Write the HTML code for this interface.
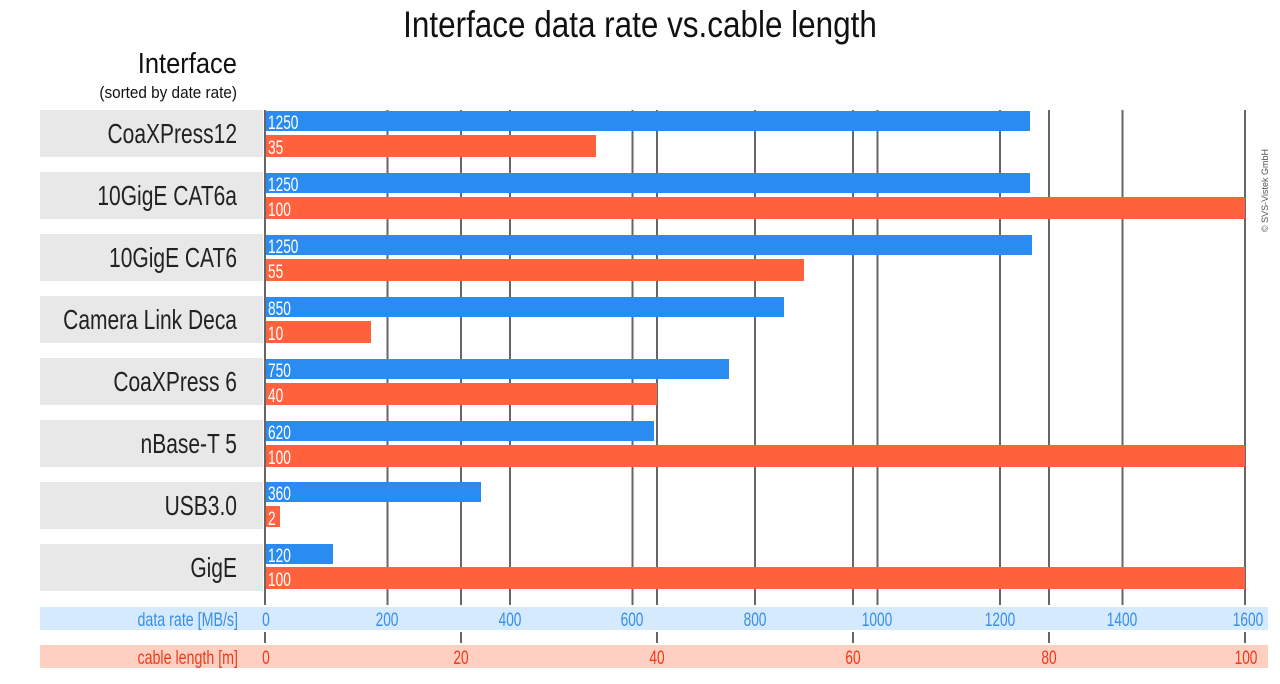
<!DOCTYPE html>
<html><head><meta charset="utf-8"><style>
body{margin:0;background:#fff;}
svg{display:block;font-family:"Liberation Sans",sans-serif;}
</style></head><body>
<svg width="1280" height="684" viewBox="0 0 1280 684">
<text x="640" y="37" text-anchor="middle" font-size="37" transform="translate(640 0) scale(0.85 1) translate(-640 0)" fill="#111">Interface data rate vs.cable length</text>
<text x="237" y="73" text-anchor="end" font-size="29" transform="translate(237 0) scale(0.88 1) translate(-237 0)" fill="#111">Interface</text>
<text x="237" y="98" text-anchor="end" font-size="17" transform="translate(237 0) scale(0.9 1) translate(-237 0)" fill="#111">(sorted by date rate)</text>
<g fill="#e8e8e8">
<rect x="40" y="110" width="223" height="47"/><rect x="40" y="172" width="223" height="47"/>
<rect x="40" y="234" width="223" height="47"/><rect x="40" y="296" width="223" height="47"/>
<rect x="40" y="358" width="223" height="47"/><rect x="40" y="420" width="223" height="47"/>
<rect x="40" y="482" width="223" height="47"/><rect x="40" y="544" width="223" height="47"/>
</g>
<g stroke="#666" stroke-width="2">
<line x1="265" y1="110" x2="265" y2="605"/>
<line x1="387.5" y1="110" x2="387.5" y2="605"/><line x1="510" y1="110" x2="510" y2="605"/>
<line x1="632.5" y1="110" x2="632.5" y2="605"/><line x1="755" y1="110" x2="755" y2="605"/>
<line x1="877.5" y1="110" x2="877.5" y2="605"/><line x1="1000" y1="110" x2="1000" y2="605"/>
<line x1="1122.5" y1="110" x2="1122.5" y2="605"/><line x1="1245" y1="110" x2="1245" y2="605"/>
<line x1="461" y1="110" x2="461" y2="605"/><line x1="657" y1="110" x2="657" y2="605"/>
<line x1="853" y1="110" x2="853" y2="605"/><line x1="1049" y1="110" x2="1049" y2="605"/>
<line x1="265" y1="632" x2="265" y2="643"/><line x1="461" y1="632" x2="461" y2="643"/>
<line x1="657" y1="632" x2="657" y2="643"/><line x1="853" y1="632" x2="853" y2="643"/>
<line x1="1049" y1="632" x2="1049" y2="643"/><line x1="1245" y1="632" x2="1245" y2="643"/>
</g>
<g fill="#2a8cf0">
<rect x="266" y="111" width="764" height="20"/><rect x="266" y="173" width="764" height="20"/>
<rect x="266" y="235" width="766" height="20"/><rect x="266" y="297" width="518" height="20"/>
<rect x="266" y="359" width="463" height="20"/><rect x="266" y="421" width="388" height="20"/>
<rect x="266" y="482" width="215" height="20"/><rect x="266" y="544" width="67" height="20"/>
</g>
<g fill="#ff623c">
<rect x="266" y="135" width="330" height="22"/><rect x="266" y="197" width="979" height="22"/>
<rect x="266" y="259" width="538" height="22"/><rect x="266" y="321" width="105" height="22"/>
<rect x="266" y="383" width="391" height="22"/><rect x="266" y="445" width="979" height="22"/>
<rect x="266" y="506" width="14" height="21"/><rect x="266" y="567" width="979" height="22"/>
</g>
<g fill="#fff" font-size="19" transform="translate(268 0) scale(0.72 1) translate(-268 0)">
<text x="268" y="129">1250</text><text x="268" y="154">35</text>
<text x="268" y="191">1250</text><text x="268" y="216">100</text>
<text x="268" y="253">1250</text><text x="268" y="278">55</text>
<text x="268" y="315">850</text><text x="268" y="340">10</text>
<text x="268" y="377">750</text><text x="268" y="402">40</text>
<text x="268" y="439">620</text><text x="268" y="464">100</text>
<text x="268" y="500">360</text><text x="268" y="525">2</text>
<text x="268" y="562">120</text><text x="268" y="586">100</text>
</g>
<g fill="#222" font-size="28" text-anchor="end" transform="translate(237 0) scale(0.75 1) translate(-237 0)">
<text x="237" y="143">CoaXPress12</text><text x="237" y="205">10GigE CAT6a</text>
<text x="237" y="267">10GigE CAT6</text><text x="237" y="329">Camera Link Deca</text>
<text x="237" y="391">CoaXPress 6</text><text x="237" y="453">nBase-T 5</text>
<text x="237" y="515">USB3.0</text><text x="237" y="577">GigE</text>
</g>
<text x="0" y="0" font-size="9" fill="#555" transform="translate(1268 232) rotate(-90)">© SVS-Vistek GmbH</text>
<rect x="40" y="607" width="1228" height="23" fill="#d6eafd"/>
<rect x="40" y="645" width="1228" height="23" fill="#ffcfc2"/>
<g fill="#3a8ee8" font-size="19" text-anchor="middle">
<text x="238" y="626" text-anchor="end" transform="translate(238 0) scale(0.75 1) translate(-238 0)">data rate [MB/s]</text>
<text x="266" y="626" transform="translate(266 0) scale(0.72 1) translate(-266 0)">0</text>
<text x="387" y="626" transform="translate(387 0) scale(0.72 1) translate(-387 0)">200</text>
<text x="510" y="626" transform="translate(510 0) scale(0.72 1) translate(-510 0)">400</text>
<text x="632" y="626" transform="translate(632 0) scale(0.72 1) translate(-632 0)">600</text>
<text x="755" y="626" transform="translate(755 0) scale(0.72 1) translate(-755 0)">800</text>
<text x="877" y="626" transform="translate(877 0) scale(0.72 1) translate(-877 0)">1000</text>
<text x="1000" y="626" transform="translate(1000 0) scale(0.72 1) translate(-1000 0)">1200</text>
<text x="1122" y="626" transform="translate(1122 0) scale(0.72 1) translate(-1122 0)">1400</text>
<text x="1248" y="626" transform="translate(1248 0) scale(0.72 1) translate(-1248 0)">1600</text>
</g>
<g fill="#f03a1a" font-size="19" text-anchor="middle">
<text x="238" y="664" text-anchor="end" transform="translate(238 0) scale(0.75 1) translate(-238 0)">cable length [m]</text>
<text x="266" y="664" transform="translate(266 0) scale(0.72 1) translate(-266 0)">0</text>
<text x="461" y="664" transform="translate(461 0) scale(0.72 1) translate(-461 0)">20</text>
<text x="657" y="664" transform="translate(657 0) scale(0.72 1) translate(-657 0)">40</text>
<text x="853" y="664" transform="translate(853 0) scale(0.72 1) translate(-853 0)">60</text>
<text x="1049" y="664" transform="translate(1049 0) scale(0.72 1) translate(-1049 0)">80</text>
<text x="1246" y="664" transform="translate(1246 0) scale(0.72 1) translate(-1246 0)">100</text>
</g>
</svg>
</body></html>
